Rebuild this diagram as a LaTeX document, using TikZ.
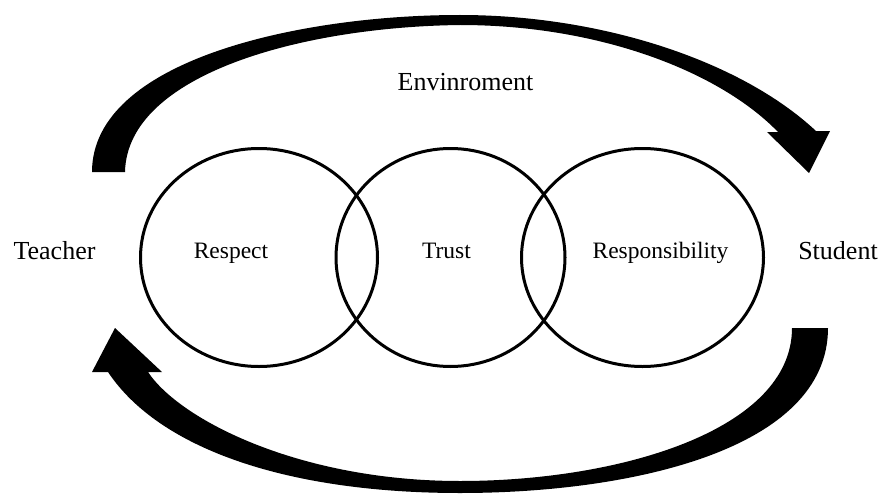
\documentclass[tikz,border=0pt]{standalone}
\usepackage{fontspec}
\setmainfont{Liberation Serif}
\usetikzlibrary{shapes.geometric}

\begin{document}
\begin{tikzpicture}[x=1pt,y=-1pt,
  ring/.style={ellipse,draw,line width=3pt,inner sep=0pt},
  party/.style={font=\fontsize{26}{30}\selectfont,anchor=base,inner sep=0pt},
  value/.style={font=\fontsize{23.5}{28}\selectfont,anchor=base,inner sep=0pt}]

\useasboundingbox (0,0) rectangle (881,495);

% the three rings
\node[ring,minimum width=237pt,minimum height=218pt] (resp) at (259,257.5) {};
\node[ring,minimum width=229pt,minimum height=218pt] (trust) at (450.5,257.5) {};
\node[ring,minimum width=242pt,minimum height=218pt] (respon) at (642.5,257.5) {};

\node[value] (resplbl) at (231,258) {Respect};
\node[value] (trustlbl) at (446.5,258) {Trust};
\node[value] (responlbl) at (660.5,258) {Responsibility};

% the two sides
\node[party] (teacher) at (54.5,259) {Teacher};
\node[party] (student) at (838,259) {Student};
\node[party] (env) at (465.5,90) {Envinroment};

% upper arrow, teacher to student
\fill (92,172) .. controls (92,60) and (300,15) .. (460,15)
  .. controls (600,15) and (740,60) .. (816,131)
  -- (830,131) -- (809,173) -- (767,132) -- (778,132)
  .. controls (720,72) and (600,25) .. (460,25)
  .. controls (300,27) and (127,75) .. (125,172) -- cycle;

% lower arrow, student back to teacher
\fill (828,328) .. controls (828,450) and (630,493) .. (460,493)
  .. controls (290,493) and (160,450) .. (108,372)
  -- (92,372) -- (115,328) -- (162,372) -- (148,372)
  .. controls (180,420) and (300,481) .. (460,481)
  .. controls (620,481) and (792,430) .. (792,328) -- cycle;

\end{tikzpicture}
\end{document}
